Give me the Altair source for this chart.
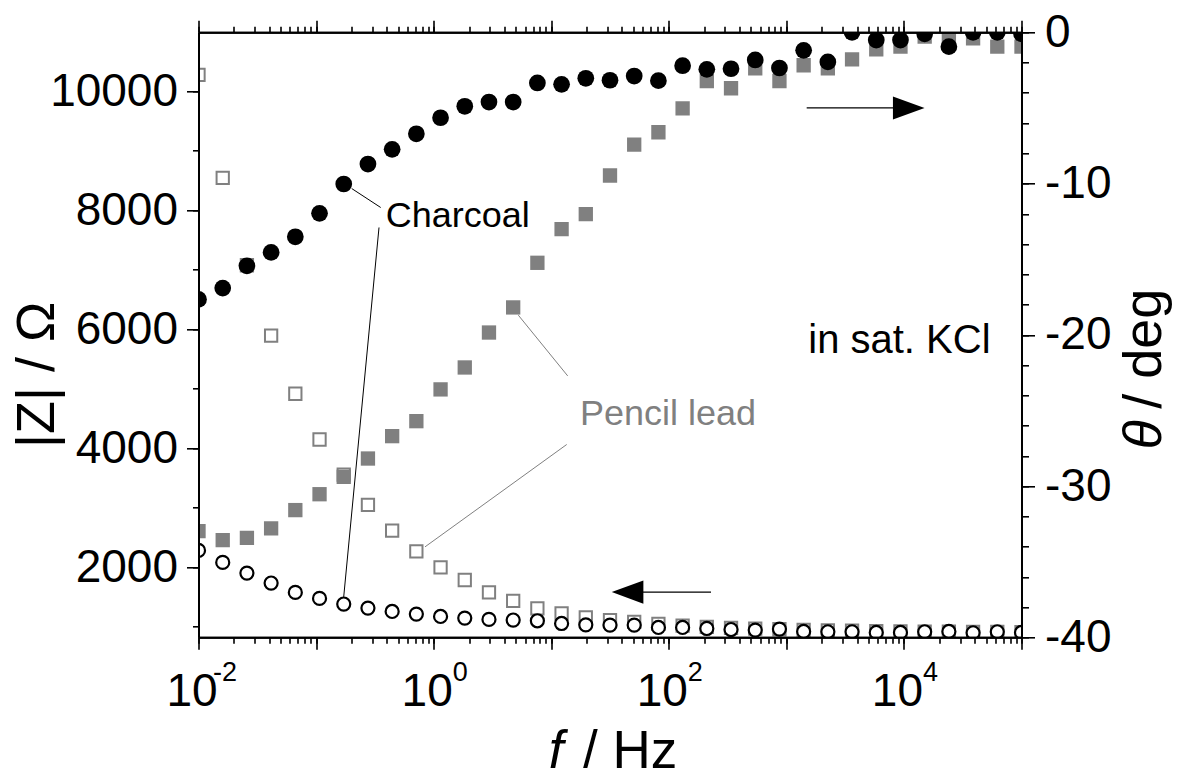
import altair as alt
import pandas as pd

# ---------------- data ----------------
freq = [0.01, 0.01607, 0.02581, 0.04146, 0.06661, 0.10701, 0.17191, 0.27617, 0.44367, 0.71276,
        1.1450, 1.8395, 2.9552, 4.7476, 7.6271, 12.253, 19.684, 31.623, 50.80, 81.61,
        131.1, 210.6, 338.4, 543.6, 873.3, 1403, 2254, 3621, 5817, 9345,
        15013, 24117, 38745, 62245, 100000]

z_charcoal = [2280, 2079, 1900, 1732, 1574, 1473, 1379, 1311, 1254, 1210,
              1170, 1143, 1120, 1110, 1098, 1052, 1030, 1025, 1025, 985,
              985, 968, 951, 941, 958, 918, 913, 913, 901, 901,
              913, 918, 896, 913, 901]

z_pencil = [10273, 8544, 7074, 5890, 4914, 4145, 3556, 3045, 2613, 2265,
            1995, 1783, 1574, 1434, 1305, 1221, 1153, 1110, 1080, 1045,
            1015, 995, 980, 965, 955, 945, 935, 930, 925, 920,
            915, 915, 910, 910, 905]

theta_charcoal = [-17.66, -16.91, -15.44, -14.55, -13.52, -11.97, -10.03, -8.71, -7.74, -6.71,
                  -5.65, -4.89, -4.61, -4.61, -3.35, -3.44, -3.04, -3.17, -2.89, -3.20,
                  -2.21, -2.45, -2.41, -1.83, -2.36, -1.19, -1.96, 0.0, -0.51, -0.51,
                  -0.10, -0.95, 0.0, 0.0, -0.10]

theta_pencil = [-32.98, -33.58, -33.43, -32.80, -31.59, -30.54, -29.39, -28.18, -26.70, -25.71,
                -23.61, -22.16, -19.85, -18.19, -15.24, -13.01, -12.02, -9.47, -7.43, -6.61,
                -5.03, -3.22, -3.70, -2.38, -3.22, -2.18, -2.38, -1.79, -1.12, -0.95,
                -0.29, -0.29, -0.40, -0.95, -0.95]

# annotation anchors (frequency in Hz, value in the units of the axis they belong to)
label_text = ["Charcoal", "Pencil lead", "in sat. KCl"]
label_f = [0.391, 17.58, 1537]
label_z = [7709, 4385, 5591]

leader_f1 = [0.2009, 0.3430, 5.250, 13.55]
leader_z1 = [8364, 7709, 6235, 4061]
leader_f2 = [0.3545, 0.1718, 13.81, 0.8443]
leader_z2 = [8045, 1499, 5214, 2340]
leader_col = ["black", "black", "#808080", "#808080"]

arrow_right_f = [1489, 10990]   # tail, head (phase axis)
arrow_right_theta = -5.0
arrow_left_f = [228.6, 44.6]    # tail, head (|Z| axis)
arrow_left_z = 1580

# ---------------- tables ----------------
df = pd.DataFrame({"f": freq, "zc": z_charcoal, "zp": z_pencil,
                   "tc": theta_charcoal, "tp": theta_pencil})
labels_df = pd.DataFrame({"f": label_f, "z": label_z, "label": label_text})
leaders_df = pd.DataFrame({"f1": leader_f1, "z1": leader_z1, "f2": leader_f2,
                           "z2": leader_z2, "col": leader_col})
arr_r_df = pd.DataFrame({"f1": [arrow_right_f[0]], "f2": [arrow_right_f[1]], "t": [arrow_right_theta]})
arr_l_df = pd.DataFrame({"f1": [arrow_left_f[0]], "f2": [arrow_left_f[1]], "z": [arrow_left_z]})

FONT = "Liberation Sans"
GRAY = "#808080"

xs = alt.Scale(type="log", domain=[0.01, 100000], nice=False)
zs = alt.Scale(domain=[820, 10990], nice=False, zero=False)
ts = alt.Scale(domain=[-40, 0], nice=False, zero=False)

decades = [10.0 ** k for k in range(-2, 6)]
all_ticks = [m * 10.0 ** k for k in range(-2, 5) for m in range(1, 10)] + [1e5]
E = "round(log(datum.value)/LN10)"

common = dict(grid=False, domainColor="black", domainWidth=2, tickColor="black",
              tickWidth=1.6, labelFont=FONT, titleFont=FONT, labelColor="black",
              titleColor="black", zindex=1, labelOverlap=False, labelFlush=False,
              titleFontWeight="normal")

ax_x_major = alt.Axis(orient="bottom", values=decades, tickSize=12,
                      labelExpr=f"({E}) % 2 == 0 ? ((({E}) == -2) ? '10\u00a0' : '10') : ''",
                      labelFontSize=46, labelBaseline="alphabetic", labelPadding=56,
                      labelOffset=-7, labelAlign="center",
                      title="f", titleFontStyle="italic", titleFontSize=53,
                      titleX=357, titleY=130, titleAlign="center",
                      titleBaseline="alphabetic", **common)
ax_x_minor = alt.Axis(orient="bottom", values=all_ticks, tickSize=6,
                      labelExpr=f"((({E}) % 2 == 0) && abs(datum.value/pow(10, {E}) - 1) < 1e-6) ? toString({E}) : ''",
                      labelFontSize=27, labelBaseline="alphabetic", labelPadding=37,
                      labelOffset=26, labelAlign="center",
                      title="/ Hz", titleFontSize=53, titleX=384, titleY=130,
                      titleAlign="left", titleBaseline="alphabetic", **common)
ax_x_top_major = alt.Axis(orient="top", values=decades, tickSize=12, labels=False,
                          title=None, **common)
ax_x_top_minor = alt.Axis(orient="top", values=all_ticks, tickSize=6, labels=False,
                          title=None, **common)

ax_z_major = alt.Axis(orient="left", values=[2000, 4000, 6000, 8000, 10000], tickSize=12,
                      labelExpr="'' + datum.value", labelFontSize=46, labelPadding=9,
                      title="|Z| / \u03a9", titleFontSize=54, titleAngle=270,
                      titleX=-145, titleY=342, titleAlign="center",
                      titleBaseline="alphabetic", **common)
ax_z_minor = alt.Axis(orient="left", values=list(range(1000, 11000, 1000)), tickSize=6,
                      labels=False, title=None, **common)
ax_t_major = alt.Axis(orient="right", values=[0, -10, -20, -30, -40], tickSize=13,
                      labelExpr="'' + datum.value", labelFontSize=46, labelPadding=10,
                      title="\u03b8", titleFontStyle="italic", titleFontSize=54,
                      titleAngle=270, titleX=139, titleY=402, titleAlign="center",
                      titleBaseline="alphabetic", **common)
ax_t_minor = alt.Axis(orient="right", values=list(range(-40, 1, 2)), tickSize=7,
                      labels=False, title="/ deg", titleFontSize=54, titleAngle=270,
                      titleX=139, titleY=376, titleAlign="left",
                      titleBaseline="alphabetic", **common)

base = alt.Chart(df)

z_pen = base.mark_point(shape="square", filled=False, color=GRAY, size=151,
                        strokeWidth=2, opacity=1, clip=True).encode(
    x=alt.X("f:Q", scale=xs, axis=ax_x_minor),
    y=alt.Y("zp:Q", scale=zs, axis=ax_z_minor))

t_pen = base.mark_point(shape="square", filled=True, color=GRAY, size=205,
                        strokeWidth=0, opacity=1, clip=True).encode(
    x=alt.X("f:Q", scale=xs, axis=ax_x_top_minor),
    y=alt.Y("tp:Q", scale=ts, axis=ax_t_minor))

z_char = base.mark_point(shape="circle", filled=True, fill="white", stroke="black",
                         strokeWidth=2.2, size=170, opacity=1, clip=True).encode(
    x=alt.X("f:Q", scale=xs, axis=ax_x_major),
    y=alt.Y("zc:Q", scale=zs, axis=ax_z_major))

t_char = base.mark_point(shape="circle", filled=True, color="black", size=280,
                         strokeWidth=0, opacity=1, clip=True).encode(
    x=alt.X("f:Q", scale=xs, axis=ax_x_top_major),
    y=alt.Y("tc:Q", scale=ts, axis=ax_t_major))

leaders = alt.Chart(leaders_df).mark_rule(strokeWidth=1).encode(
    x=alt.X("f1:Q", scale=xs, axis=None), x2="f2:Q",
    y=alt.Y("z1:Q", scale=zs, axis=None), y2="z2:Q",
    color=alt.Color("col:N", scale=None))

labels_black = alt.Chart(labels_df).transform_filter(
    alt.datum.label == "Charcoal").mark_text(
    align="left", baseline="alphabetic", font=FONT, fontSize=36, color="black").encode(
    x=alt.X("f:Q", scale=xs, axis=None), y=alt.Y("z:Q", scale=zs, axis=None), text="label:N")
labels_gray = alt.Chart(labels_df).transform_filter(
    alt.datum.label == "Pencil lead").mark_text(
    align="left", baseline="alphabetic", font=FONT, fontSize=36, color=GRAY).encode(
    x=alt.X("f:Q", scale=xs, axis=None), y=alt.Y("z:Q", scale=zs, axis=None), text="label:N")
labels_kcl = alt.Chart(labels_df).transform_filter(
    alt.datum.label == "in sat. KCl").mark_text(
    align="left", baseline="alphabetic", font=FONT, fontSize=40, color="black").encode(
    x=alt.X("f:Q", scale=xs, axis=None), y=alt.Y("z:Q", scale=zs, axis=None), text="label:N")

arr_r_line = alt.Chart(arr_r_df).mark_rule(strokeWidth=1.4, color="black").encode(
    x=alt.X("f1:Q", scale=xs, axis=None), x2="f2:Q",
    y=alt.Y("t:Q", scale=ts, axis=None))
arr_r_head = alt.Chart(arr_r_df).mark_point(
    shape="M-1,-0.73L1,0L-1,0.73Z", filled=True, color="black", size=1000,
    opacity=1, strokeWidth=0).encode(
    x=alt.X("f2:Q", scale=xs, axis=None), y=alt.Y("t:Q", scale=ts, axis=None))
arr_l_line = alt.Chart(arr_l_df).mark_rule(strokeWidth=1.4, color="black").encode(
    x=alt.X("f1:Q", scale=xs, axis=None), x2="f2:Q",
    y=alt.Y("z:Q", scale=zs, axis=None))
arr_l_head = alt.Chart(arr_l_df).mark_point(
    shape="M1,-0.73L-1,0L1,0.73Z", filled=True, color="black", size=1000,
    opacity=1, strokeWidth=0).encode(
    x=alt.X("f2:Q", scale=xs, axis=None), y=alt.Y("z:Q", scale=zs, axis=None))

chart = alt.layer(
    z_pen, t_pen, z_char, t_char, leaders, labels_black, labels_gray, labels_kcl,
    arr_r_line, arr_r_head, arr_l_line, arr_l_head
).resolve_scale(y="independent").resolve_axis(x="independent", y="independent").properties(
    width=823, height=605,
    autosize=alt.AutoSizeParams(type="none"),
    padding={"left": 190.5, "top": 24.3, "right": 150, "bottom": 131},
).configure_view(strokeWidth=0)

chart.save("out.html", embed_options={"renderer": "svg", "actions": False})
